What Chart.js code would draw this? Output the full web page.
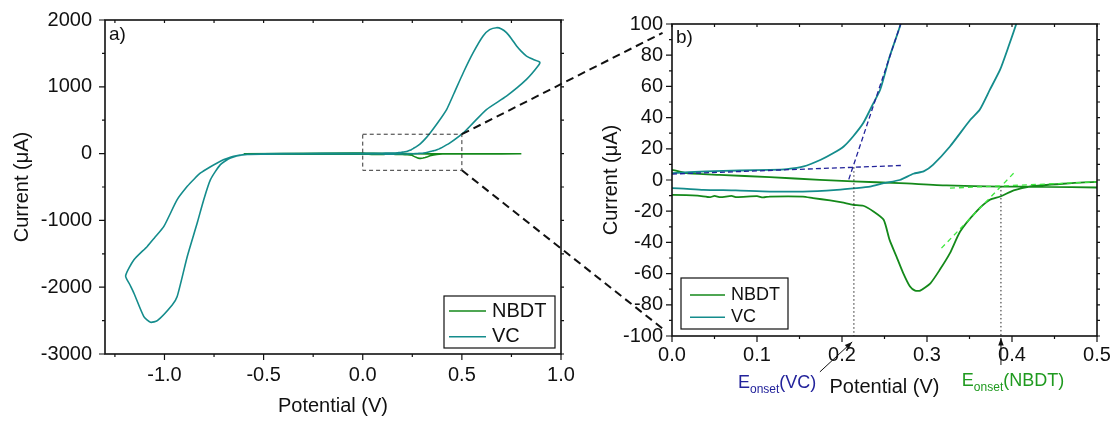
<!DOCTYPE html>
<html>
<head>
<meta charset="utf-8">
<script src="https://cdn.jsdelivr.net/npm/chart.js@4.4.1/dist/chart.umd.min.js"></script>
<style>
  html, body { margin: 0; padding: 0; background: #fff; }
  #wrap { position: relative; width: 1112px; height: 421px; }
  #wrap canvas { position: absolute; left: 0; top: 0; }
</style>
</head>
<body>
<div id="wrap">
  <canvas id="cvA" width="1112" height="421"></canvas>
  <canvas id="cvB" width="1112" height="421"></canvas>
</div>
<script>
// VC cyclic voltammogram, one closed sweep (V, uA)
const vcPotential = [
  0.000, 0.040, 0.080, 0.115, 0.135, 0.155, 0.175, 0.190, 0.202, 0.213, 0.225, 0.237, 0.245, 0.256, 0.269,
  0.290, 0.315, 0.340, 0.380, 0.423, 0.460, 0.507, 0.557, 0.607, 0.640, 0.675, 0.700, 0.725, 0.750, 0.776,
  0.800, 0.826, 0.860, 0.893,
  0.884, 0.826, 0.725, 0.624, 0.557, 0.507, 0.440, 0.405, 0.396, 0.386, 0.374, 0.362, 0.351, 0.327, 0.307,
  0.296, 0.284, 0.268, 0.249, 0.233, 0.217, 0.194, 0.154, 0.115, 0.075, 0.037, 0.000,
  -0.100, -0.300, -0.500, -0.583, -0.651, -0.700, -0.734, -0.770, -0.818, -0.850, -0.885, -0.936, -1.003,
  -1.050, -1.087, -1.154, -1.196,
  -1.175, -1.154, -1.104, -1.070, -1.036, -0.961, -0.936, -0.885, -0.835, -0.802, -0.768, -0.718, -0.667,
  -0.600, -0.500, -0.300, -0.100, 0.000
];
const vcCurrent = [
  4.4, 5.5, 6.1, 6.5, 7.0, 8.7, 13.0, 17.3, 21.5, 27.9, 36.5, 49.3, 58.0, 79.0, 100,
  145, 220, 310, 470, 660, 900, 1210, 1510, 1760, 1855, 1885, 1865, 1810, 1720, 1610,
  1530, 1460, 1410, 1369,
  1310, 1110, 860, 660, 460, 310, 160, 100, 85.7, 70.7, 57.9, 45.0, 38.6, 21.5, 9.7,
  5.5, 4.0, 0.0, -2.0, -4.2, -5.2, -6.3, -7.4, -7.4, -6.7, -6.3, -5.2,
  -5, -5, -8, -12, -40, -90, -140, -200, -290, -380, -490, -690, -1090,
  -1260, -1390, -1590, -1830,
  -1960, -2090, -2440, -2525, -2500, -2265, -2140, -1540, -1040, -690, -390, -165, -65,
  -15, -3, 2, 3.5, 4.4
];

// NBDT cyclic voltammogram (V, uA)
const nbdtPotential = [
  -0.600, -0.400, -0.200, -0.050, 0.000, 0.017, 0.056, 0.115, 0.174, 0.213, 0.268, 0.323, 0.386, 0.440,
  0.500, 0.600, 0.700, 0.800,
  0.700, 0.600, 0.500, 0.460, 0.421, 0.402, 0.386, 0.374, 0.358, 0.339, 0.327, 0.315, 0.304, 0.292, 0.286,
  0.280, 0.272, 0.264, 0.256, 0.249, 0.237, 0.225, 0.213, 0.200, 0.186, 0.166, 0.154, 0.115, 0.107, 0.100,
  0.076, 0.070, 0.057, 0.050, 0.045, 0.030, 0.000, -0.300, -0.600
];
const nbdtCurrent = [
  -2, 1, 4, 7, 6.5, 4.4, 3.3, 1.8, 0.1, -0.9, -2.0, -3.5, -4.2, -4.4,
  -4.8, -5, -4, -3,
  -2, -1.5, -1.2, -2.4, -4.2, -6.7, -10.6, -12.7, -20.2, -33.0, -46.9, -57.6, -66.2, -70.9, -70.9,
  -68.3, -59.7, -49.0, -38.4, -25.5, -20.2, -16.5, -15.9, -14.4, -13.1, -11.6, -10.6, -10.6, -11.2, -10.4,
  -11.0, -10.2, -11.0, -10.2, -11.0, -10.0, -9.5, -8, -2
];

// onset construction lines (panel b)
const vcBasePot = [0.000, 0.270], vcBaseCur = [3.8, 9.3];
const vcRisePot = [0.208, 0.270], vcRiseCur = [0.4, 101.6];
const nbdtBasePot = [0.327, 0.500], nbdtBaseCur = [-5.2, -1.2];
const nbdtRisePot = [0.317, 0.402], nbdtRiseCur = [-43.7, 4.4];
const onsetPot = [0.214, 0.387];
const onsetCur = [8.2, -3.8];

// axes
const xTicksA = [-1.0, -0.5, 0.0, 0.5, 1.0];
const yTicksA = [-3000, -2000, -1000, 0, 1000, 2000];
const xTicksB = [0.0, 0.1, 0.2, 0.3, 0.4, 0.5];
const yTicksB = [-100, -80, -60, -40, -20, 0, 20, 40, 60, 80, 100];
const zoomBoxPot = [0.0, 0.5];
const zoomBoxCur = [-250, 290];

const FONT = "'Liberation Sans', Arial, sans-serif";
const NBDT_COLOR = '#14891a';
const VC_COLOR = '#148c8c';
Chart.defaults.font.family = FONT;
Chart.defaults.color = '#111';

const pts = (xs, ys) => xs.map((x, i) => ({x: x, y: ys[i]}));

// keep the plot area exactly where the layout padding puts it
const noEdgePad = s => {
  s.paddingTop = 0; s.paddingBottom = 0; s.paddingLeft = 0; s.paddingRight = 0;
};

// box frame with major/minor ticks on all sides
const framePlugin = {
  id: 'frame',
  afterDatasetsDraw(chart) {
    const {ctx, chartArea: a, scales} = chart;
    const each = (scale, fn) => {
      const t = scale.ticks.map(k => k.value);
      const half = (t[1] - t[0]) / 2;
      const k0 = Math.ceil(scale.min / half - 1e-6), k1 = Math.floor(scale.max / half + 1e-6);
      for (let k = k0; k <= k1; k++) fn(scale.getPixelForValue(k * half), k % 2 === 0);
    };
    ctx.save();
    ctx.strokeStyle = '#111';
    ctx.lineWidth = 1.6;
    ctx.strokeRect(a.left, a.top, a.right - a.left, a.bottom - a.top);
    ctx.lineWidth = 1.2;
    ctx.beginPath();
    each(scales.x, (px, major) => {
      ctx.moveTo(px, a.bottom); ctx.lineTo(px, a.bottom + (major ? 6 : 3));
      ctx.moveTo(px, a.top); ctx.lineTo(px, a.top + 3);
    });
    each(scales.y, (py, major) => {
      ctx.moveTo(a.left, py); ctx.lineTo(a.left - (major ? 6 : 3), py);
      ctx.moveTo(a.right, py); ctx.lineTo(a.right + 3, py);
    });
    ctx.stroke();
    ctx.restore();
  }
};

// framed legend inside the plot
const boxLegend = {
  id: 'boxLegend',
  afterDraw(chart, args, o) {
    const {ctx, chartArea: a} = chart;
    const items = chart.data.datasets.filter(d => d.inLegend);
    const x0 = o.left !== undefined ? a.left + o.left : a.right - o.right - o.width;
    const y0 = a.bottom - o.bottom - o.height;
    ctx.save();
    ctx.fillStyle = '#fff';
    ctx.fillRect(x0, y0, o.width, o.height);
    ctx.strokeStyle = '#111';
    ctx.lineWidth = 1.2;
    ctx.strokeRect(x0, y0, o.width, o.height);
    ctx.font = o.size + 'px ' + FONT;
    ctx.textBaseline = 'middle';
    items.forEach((d, i) => {
      const yy = y0 + o.first + i * o.gap;
      ctx.strokeStyle = d.borderColor;
      ctx.lineWidth = 1.6;
      ctx.beginPath();
      ctx.moveTo(x0 + o.inset, yy);
      ctx.lineTo(x0 + o.inset + o.line, yy);
      ctx.stroke();
      ctx.fillStyle = '#111';
      ctx.fillText(d.label, x0 + o.textX, yy);
    });
    ctx.restore();
  }
};

// panel letter
const panelTag = {
  id: 'panelTag',
  afterDraw(chart, args, o) {
    const {ctx, chartArea: a} = chart;
    ctx.save();
    ctx.font = '19px ' + FONT;
    ctx.fillStyle = '#111';
    ctx.textBaseline = 'alphabetic';
    ctx.fillText(o.text, a.left + 4, a.top + o.dy);
    ctx.restore();
  }
};

// dashed box marking the zoomed region
const zoomBox = {
  id: 'zoomBox',
  afterDatasetsDraw(chart) {
    const {ctx, scales: {x, y}} = chart;
    const x1 = x.getPixelForValue(zoomBoxPot[0]), x2 = x.getPixelForValue(zoomBoxPot[1]);
    const y1 = y.getPixelForValue(zoomBoxCur[1]), y2 = y.getPixelForValue(zoomBoxCur[0]);
    ctx.save();
    ctx.strokeStyle = '#333';
    ctx.lineWidth = 1;
    ctx.setLineDash([4, 3]);
    ctx.strokeRect(x1, y1, x2 - x1, y2 - y1);
    ctx.restore();
  }
};

const chartA = new Chart(document.getElementById('cvA'), {
  type: 'line',
  data: {
    datasets: [
      {label: 'NBDT', data: pts(nbdtPotential, nbdtCurrent), borderColor: NBDT_COLOR, borderWidth: 1.6,
       pointRadius: 0, tension: 0, order: 1, inLegend: true},
      {label: 'VC', data: pts(vcPotential, vcCurrent), borderColor: VC_COLOR, borderWidth: 1.6,
       pointRadius: 0, tension: 0.2, order: 0, inLegend: true}
    ]
  },
  options: {
    responsive: false,
    animation: false,
    events: [],
    layout: {padding: {left: 0, right: 551, top: 20, bottom: 0}},
    plugins: {
      legend: {display: false},
      tooltip: {enabled: false},
      boxLegend: {right: 6, bottom: 6, width: 111, height: 52, first: 15, gap: 25.7, inset: 5, line: 37, textX: 48, size: 20},
      panelTag: {text: 'a)', dy: 20}
    },
    scales: {
      x: {
        type: 'linear', min: -1.3, max: 1.0,
        afterBuildTicks: s => { s.ticks = xTicksA.map(v => ({value: v})); },
        afterFit: s => { s.height = 67; noEdgePad(s); },
        grid: {display: false, drawTicks: false},
        border: {display: false},
        ticks: {padding: 9.5, font: {size: 20}, color: '#111', callback: v => Number(v).toFixed(1)},
        title: {display: true, text: 'Potential (V)', font: {size: 20}, color: '#111', padding: {top: 0, bottom: 2.5}}
      },
      y: {
        type: 'linear', min: -3000, max: 2000,
        afterBuildTicks: s => { s.ticks = yTicksA.map(v => ({value: v})); },
        afterFit: s => { s.width = 105; noEdgePad(s); },
        grid: {display: false, drawTicks: false},
        border: {display: false},
        ticks: {padding: 13, font: {size: 20}, color: '#111', callback: v => String(v)},
        title: {display: true, text: 'Current (\u03bcA)', font: {size: 20}, color: '#111', padding: {top: 10, bottom: 0}}
      }
    }
  },
  plugins: [zoomBox, framePlugin, boxLegend, panelTag]
});

// dashed connectors from the zoom box to panel b
const zoomLinks = {
  id: 'zoomLinks',
  afterDraw(chart) {
    const {ctx, chartArea: a} = chart;
    const sx = chartA.scales.x, sy = chartA.scales.y;
    const bx = sx.getPixelForValue(zoomBoxPot[1]);
    const link = (x1, y1, x2, y2) => {
      const ex = x1 + (x2 - x1) * 0.955, ey = y1 + (y2 - y1) * 0.955;
      ctx.beginPath(); ctx.moveTo(x1, y1); ctx.lineTo(ex, ey); ctx.stroke();
    };
    ctx.save();
    ctx.strokeStyle = '#111';
    ctx.lineWidth = 2;
    ctx.setLineDash([8, 5]);
    link(bx, sy.getPixelForValue(zoomBoxCur[1]), a.left, a.top + 4);
    link(bx, sy.getPixelForValue(zoomBoxCur[0]), a.left, a.bottom);
    ctx.restore();
  }
};

// onset arrows and labels under panel b
const onsetNotes = {
  id: 'onsetNotes',
  afterDraw(chart, args, o) {
    const {ctx, scales: {x, y}} = chart;
    ctx.save();
    o.items.forEach(it => {
      const x1 = x.getPixelForValue(it.tail[0]), y1 = y.getPixelForValue(it.tail[1]);
      const x2 = x.getPixelForValue(it.head[0]), y2 = y.getPixelForValue(it.head[1]);
      const ang = Math.atan2(y2 - y1, x2 - x1);
      ctx.strokeStyle = '#111';
      ctx.fillStyle = '#111';
      ctx.lineWidth = 1;
      ctx.beginPath(); ctx.moveTo(x1, y1); ctx.lineTo(x2, y2); ctx.stroke();
      ctx.beginPath();
      ctx.moveTo(x2, y2);
      ctx.lineTo(x2 - 8 * Math.cos(ang - 0.35), y2 - 8 * Math.sin(ang - 0.35));
      ctx.lineTo(x2 - 8 * Math.cos(ang + 0.35), y2 - 8 * Math.sin(ang + 0.35));
      ctx.closePath(); ctx.fill();

      let tx = x.getPixelForValue(it.text[0]);
      const ty = y.getPixelForValue(it.text[1]);
      ctx.fillStyle = it.color;
      ctx.textBaseline = 'alphabetic';
      ctx.font = '18px ' + FONT;
      ctx.fillText('E', tx, ty);
      tx += ctx.measureText('E').width;
      ctx.font = '12px ' + FONT;
      ctx.fillText('onset', tx, ty + 5);
      tx += ctx.measureText('onset').width;
      ctx.font = '18px ' + FONT;
      ctx.fillText('(' + it.name + ')', tx, ty);
    });
    ctx.restore();
  }
};

const dashed = (data, color, dash) => ({
  data: data, borderColor: color, borderWidth: 1.3, borderDash: dash, pointRadius: 0, order: -1
});

const chartB = new Chart(document.getElementById('cvB'), {
  type: 'line',
  data: {
    datasets: [
      {label: 'NBDT', data: pts(nbdtPotential, nbdtCurrent), borderColor: NBDT_COLOR, borderWidth: 1.8,
       pointRadius: 0, tension: 0.2, order: 1, inLegend: true},
      {label: 'VC', data: pts(vcPotential, vcCurrent), borderColor: VC_COLOR, borderWidth: 1.8,
       pointRadius: 0, tension: 0.2, order: 0, inLegend: true},
      dashed(pts(vcBasePot, vcBaseCur), '#22229a', [5, 3]),
      dashed(pts(vcRisePot, vcRiseCur), '#22229a', [5, 3]),
      dashed(pts(nbdtBasePot, nbdtBaseCur), '#3ee83e', [5, 4]),
      dashed(pts(nbdtRisePot, nbdtRiseCur), '#3ee83e', [5, 4]),
      {data: pts([onsetPot[0], onsetPot[0]], [onsetCur[0], yTicksB[0]]), borderColor: '#222', borderWidth: 1,
       borderDash: [1.5, 2.5], pointRadius: 0, order: -2},
      {data: pts([onsetPot[1], onsetPot[1]], [onsetCur[1], yTicksB[0]]), borderColor: '#222', borderWidth: 1,
       borderDash: [1.5, 2.5], pointRadius: 0, order: -2}
    ]
  },
  options: {
    responsive: false,
    animation: false,
    events: [],
    layout: {padding: {left: 590, right: 15, top: 24, bottom: 0}},
    plugins: {
      legend: {display: false},
      tooltip: {enabled: false},
      boxLegend: {left: 9, bottom: 7, width: 107, height: 51, first: 17, gap: 22.3, inset: 9, line: 35, textX: 50, size: 18},
      panelTag: {text: 'b)', dy: 19},
      onsetNotes: {items: [
        {name: 'VC', color: '#23239b', tail: [0.174, -123], head: [0.212, -103.8], text: [0.0776, -133.3]},
        {name: 'NBDT', color: '#1f9a1f', tail: [onsetPot[1], -118.6], head: [onsetPot[1], -101.3], text: [0.341, -132]}
      ]}
    },
    scales: {
      x: {
        type: 'linear', min: 0, max: 0.5,
        afterBuildTicks: s => { s.ticks = xTicksB.map(v => ({value: v})); },
        afterFit: s => { s.height = 85; noEdgePad(s); },
        grid: {display: false, drawTicks: false},
        border: {display: false},
        ticks: {padding: 7.8, font: {size: 20}, color: '#111', callback: v => Number(v).toFixed(1)},
        title: {display: true, text: 'Potential (V)', font: {size: 20}, color: '#111', padding: {top: 0, bottom: 22}}
      },
      y: {
        type: 'linear', min: -100, max: 100,
        afterBuildTicks: s => { s.ticks = yTicksB.map(v => ({value: v})); },
        afterFit: s => { s.width = 82; noEdgePad(s); },
        grid: {display: false, drawTicks: false},
        border: {display: false},
        ticks: {padding: 9, font: {size: 20}, color: '#111', callback: v => String(v)},
        title: {display: true, text: 'Current (\u03bcA)', font: {size: 20}, color: '#111', padding: {top: 9.7, bottom: 0}}
      }
    }
  },
  plugins: [framePlugin, boxLegend, panelTag, onsetNotes, zoomLinks]
});
</script>
</body>
</html>
